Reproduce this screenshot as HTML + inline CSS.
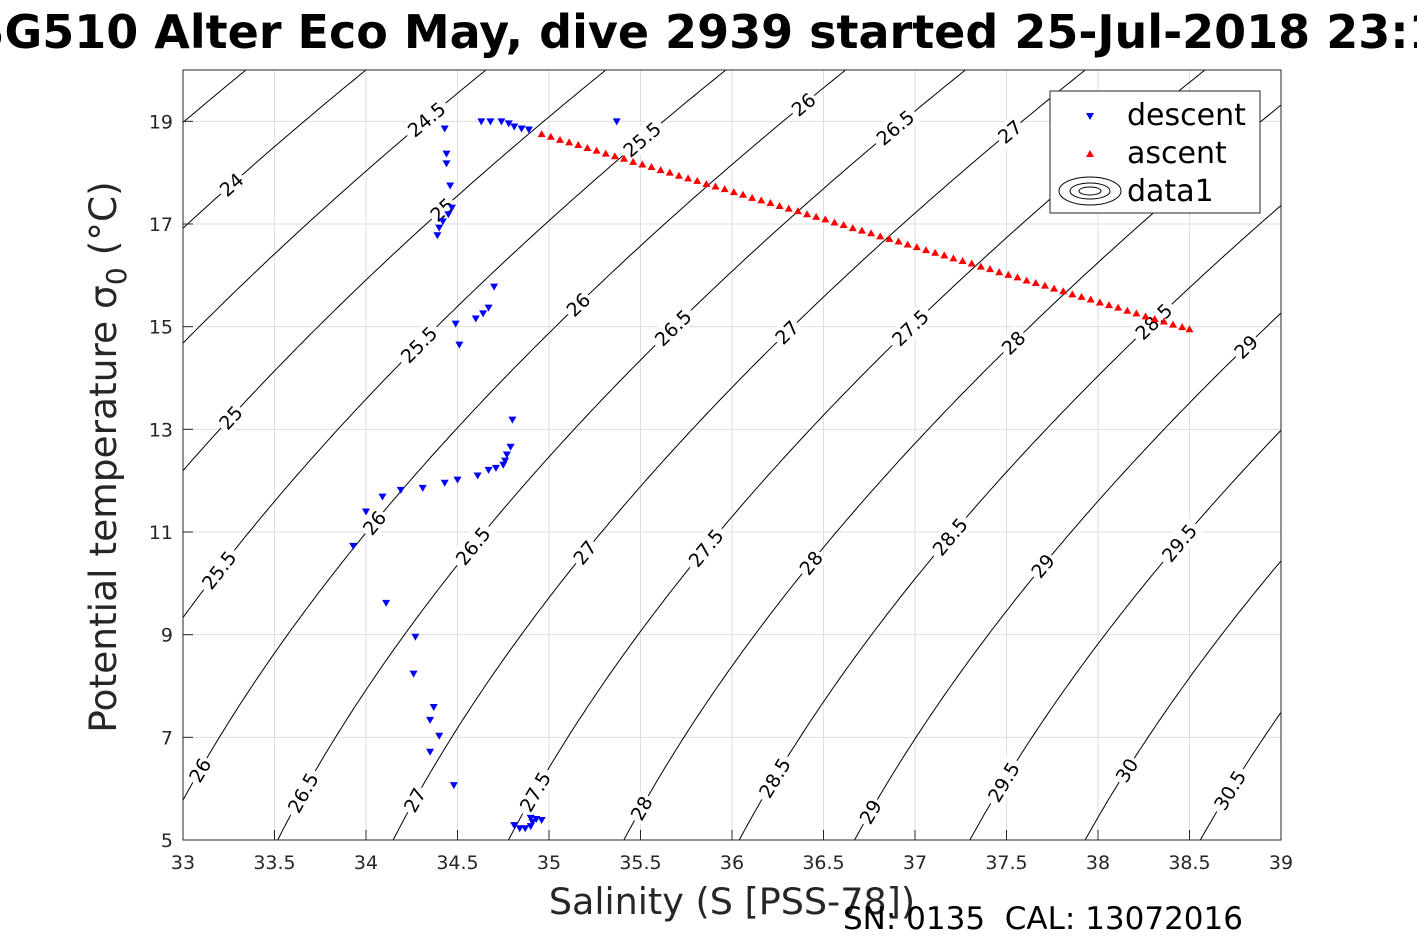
<!DOCTYPE html>
<html><head><meta charset="utf-8">
<style>
html,body{margin:0;padding:0;background:#fff;}
svg{display:block;font-family:"DejaVu Sans","Liberation Sans",sans-serif;}
</style></head>
<body>
<svg id="chart" width="1417" height="945" viewBox="0 0 1417 945" xmlns="http://www.w3.org/2000/svg">
<text x="722" y="48" text-anchor="middle" font-size="46" font-weight="bold" fill="#000">SG510 Alter Eco May, dive 2939 started 25-Jul-2018 23:13</text>
<g id="grid"></g>
<g id="contours"></g>
<g id="series"></g>
<rect x="183" y="70" width="1098" height="770" fill="none" stroke="#262626" stroke-width="1"/>
<g id="axes"></g>
<text x="732" y="914" text-anchor="middle" font-size="36.5" fill="#262626">Salinity (S [PSS-78])</text>
<text transform="translate(116,457) rotate(-90)" text-anchor="middle" font-size="37.5" fill="#262626">Potential temperature σ<tspan font-size="28" dy="10">0</tspan><tspan dy="-10"> (°C)</tspan></text>
<text x="843" y="929" font-size="31" fill="#000">SN: 0135&#160; CAL: 13072016</text>
<g>
<rect x="1050" y="91" width="210" height="122" fill="#fff" stroke="#262626" stroke-width="1"/>
<polygon points="1086,113 1094,113 1090,120" fill="#0000ff"/>
<text x="1127" y="125" font-size="30" fill="#000">descent</text>
<polygon points="1086,157 1094,157 1090,150" fill="#ff0000"/>
<text x="1127" y="163" font-size="30" fill="#000">ascent</text>
<g fill="none" stroke="#000" stroke-width="1">
<ellipse cx="1090" cy="191" rx="31" ry="14"/><ellipse cx="1090" cy="191" rx="20" ry="8"/><ellipse cx="1090" cy="191" rx="11" ry="4"/>
</g>
<text x="1127" y="201" font-size="30" fill="#000">data1</text>
</g>
</svg>
<script>
const xTicks=[33,33.5,34,34.5,35,35.5,36,36.5,37,37.5,38,38.5,39];
const yTicks=[5,7,9,11,13,15,17,19];
const contourLevels=[23.5,24,24.5,25,25.5,26,26.5,27,27.5,28,28.5,29,29.5,30,30.5,31];
const labelLevels=[24,24.5,25,25.5,26,26.5,27,25,25.5,26,26.5,27,27.5,28,28.5,29,25.5,26,26.5,27,27.5,28,28.5,29,29.5,26,26.5,27,27.5,28,28.5,29,29.5,30,30.5];
const labelTemps=[17.77,19.04,17.28,18.65,19.33,18.88,18.80,13.23,14.65,15.43,14.98,14.89,14.98,14.69,15.10,14.61,10.26,11.18,10.73,10.60,10.69,10.40,10.91,10.34,10.79,6.36,5.92,5.78,5.94,5.62,6.21,5.55,6.13,6.36,5.97];
const descentS=[34.43,34.44,34.44,34.46,34.47,34.45,34.42,34.40,34.39,34.63,34.68,34.74,34.78,34.81,34.85,34.89,35.37,34.70,34.67,34.64,34.60,34.49,34.51,34.80,34.79,34.77,34.76,34.75,34.71,34.67,34.61,34.50,34.43,34.31,34.19,34.09,34.00,33.93,34.11,34.27,34.26,34.37,34.35,34.40,34.35,34.48,34.81,34.84,34.87,34.90,34.91,34.93,34.96,34.90];
const descentT=[18.86,18.37,18.18,17.75,17.32,17.19,17.05,16.93,16.78,19.0,19.0,19.0,18.96,18.90,18.86,18.84,19.0,15.78,15.37,15.26,15.16,15.06,14.65,13.19,12.66,12.51,12.39,12.31,12.25,12.21,12.10,12.02,11.96,11.86,11.82,11.69,11.40,10.73,9.62,8.96,8.24,7.59,7.34,7.03,6.72,6.07,5.29,5.23,5.23,5.27,5.35,5.41,5.39,5.43];
const ascentS=[34.96,35.01,35.06,35.11,35.16,35.21,35.26,35.31,35.36,35.41,35.46,35.51,35.56,35.61,35.66,35.71,35.76,35.81,35.86,35.91,35.96,36.01,36.06,36.11,36.16,36.21,36.26,36.31,36.36,36.41,36.46,36.51,36.56,36.61,36.66,36.71,36.76,36.81,36.86,36.91,36.96,37.01,37.06,37.11,37.16,37.21,37.26,37.31,37.36,37.41,37.46,37.51,37.56,37.61,37.66,37.71,37.76,37.81,37.86,37.91,37.96,38.01,38.06,38.11,38.16,38.21,38.26,38.31,38.36,38.41,38.46,38.50];
const ascentT=[18.75,18.70,18.64,18.59,18.54,18.48,18.43,18.37,18.32,18.27,18.21,18.16,18.11,18.05,18.00,17.94,17.89,17.84,17.78,17.73,17.68,17.62,17.57,17.51,17.46,17.41,17.35,17.30,17.25,17.19,17.14,17.09,17.03,16.98,16.92,16.87,16.82,16.76,16.71,16.66,16.60,16.55,16.49,16.44,16.39,16.33,16.28,16.23,16.17,16.12,16.06,16.01,15.96,15.90,15.85,15.80,15.74,15.69,15.63,15.58,15.53,15.47,15.42,15.37,15.31,15.26,15.20,15.15,15.10,15.04,14.99,14.95];

const NS="http://www.w3.org/2000/svg";
const X0=183,X1=1281,Y0=840,Y1=70,SMIN=33,SMAX=39,TMIN=5,TMAX=20;
const xs=s=>X0+(s-SMIN)/(SMAX-SMIN)*(X1-X0);
const ys=t=>Y0-(t-TMIN)/(TMAX-TMIN)*(Y0-Y1);
function mk(tag,attrs,parent){const e=document.createElementNS(NS,tag);for(const k in attrs)e.setAttribute(k,attrs[k]);parent.appendChild(e);return e;}
function sigma0(S,T){
 const rw=999.842594+6.793952e-2*T-9.095290e-3*T*T+1.001685e-4*T**3-1.120083e-6*T**4+6.536332e-9*T**5;
 const A=8.24493e-1-4.0899e-3*T+7.6438e-5*T*T-8.2467e-7*T**3+5.3875e-9*T**4;
 const B=-5.72466e-3+1.0227e-4*T-1.6546e-6*T*T;
 return rw+A*S+B*Math.pow(S,1.5)+4.8314e-4*S*S-1000;
}
function salFor(level,T){let lo=20,hi=45;for(let i=0;i<50;i++){const m=(lo+hi)/2;if(sigma0(m,T)<level)lo=m;else hi=m;}return (lo+hi)/2;}

const grid=document.getElementById('grid'),axes=document.getElementById('axes');
xTicks.forEach(v=>{
 const g=mk('line',{x1:xs(v),x2:xs(v),y1:Y1,y2:Y0,stroke:'#dedede','stroke-width':1},grid);
 
 
 const tk=mk('line',{x1:xs(v),x2:xs(v),y1:Y0,y2:Y0-10,stroke:'#262626'},axes);
 
 
 const t=mk('text',{x:xs(v),y:Y0+29,'text-anchor':'middle','font-size':19,fill:'#262626'},axes);
 t.textContent=v;
 
 
});
yTicks.forEach(v=>{
 const g=mk('line',{x1:X0,x2:X1,y1:ys(v),y2:ys(v),stroke:'#dedede','stroke-width':1},grid);
 
 
 const tk=mk('line',{x1:X0,x2:X0+10,y1:ys(v),y2:ys(v),stroke:'#262626'},axes);
 
 
 const t=mk('text',{x:X0-10,y:ys(v)+7,'text-anchor':'end','font-size':19,fill:'#262626'},axes);
 t.textContent=v;
 
 
});

const cg=document.getElementById('contours');
const cp=mk('clipPath',{id:'clip'},cg);
mk('rect',{x:X0,y:Y1,width:X1-X0,height:Y0-Y1},cp);
contourLevels.forEach(lv=>{
 let d='';
 for(let T=4.5;T<=20.6;T+=0.1){const S=salFor(lv,T);d+=(d?'L':'M')+xs(S).toFixed(1)+','+ys(T).toFixed(1);}
 const p=mk('path',{d:d,fill:'none',stroke:'#000','stroke-width':1,'clip-path':'url(#clip)'},cg);
 
 
});
labelLevels.forEach((lv,i)=>{
 const T=labelTemps[i],S=salFor(lv,T);
 const x=xs(S),y=ys(T);
 const xa=xs(salFor(lv,T-0.3)),ya=ys(T-0.3),xb=xs(salFor(lv,T+0.3)),yb=ys(T+0.3);
 const ang=Math.atan2(yb-ya,xb-xa)*180/Math.PI;
 const g=mk('g',{transform:`translate(${x.toFixed(1)},${y.toFixed(1)}) rotate(${ang.toFixed(1)})`},cg);
 
 
 const txt=String(lv);const w=txt.length*11+6;
 mk('rect',{x:-w/2,y:-11,width:w,height:22,fill:'#fff'},g);
 const t=mk('text',{x:0,y:7,'text-anchor':'middle','font-size':19,fill:'#000'},g);
 t.textContent=txt;
});

const sg=document.getElementById('series');
descentS.forEach((s,i)=>{
 const x=xs(s),y=ys(descentT[i]);
 const p=mk('polygon',{points:`${x-4},${y-3} ${x+4},${y-3} ${x},${y+4}`,fill:'#0000ff'},sg);
 
 
});
ascentS.forEach((s,i)=>{
 const x=xs(s),y=ys(ascentT[i]);
 const p=mk('polygon',{points:`${x-4},${y+3} ${x+4},${y+3} ${x},${y-4}`,fill:'#ff0000'},sg);
 
 
});
</script>
</body></html>
